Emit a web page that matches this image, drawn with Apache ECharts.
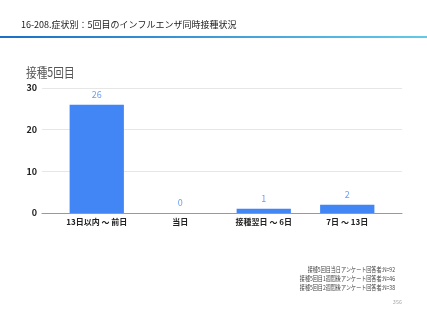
<!DOCTYPE html>
<html><head><meta charset="utf-8">
<script src="https://cdn.jsdelivr.net/npm/echarts@6/dist/echarts.min.js"></script>
<style>html,body{margin:0;padding:0;background:#fff}#c{width:427px;height:320px}</style>
</head><body><div id="c"></div>
<script>
const categories = ['13日以内 ～ 前日', '当日', '接種翌日 ～ 6日', '7日 ～ 13日'];
const values = [26, 0, 1, 2];
const yTicks = { min: 0, max: 30, interval: 10 };
const pageTitle = '16-208.症状別：5回目のインフルエンザ同時接種状況';
const chartTitle = '接種5回目';
const notes = ['接種5回目当日アンケート回答者:N=92', '接種5回目1週間後アンケート回答者:N=46', '接種5回目2週間後アンケート回答者:N=38'];
const pageNo = '356';

const font = '"Noto Sans CJK JP", "Noto Sans", sans-serif';
const chart = echarts.init(document.getElementById('c'), null, {renderer: 'canvas'});
const noteEls = notes.map((t, i) => ({
  type: 'text', x: 395, y: 270 + i * 9, scaleX: 0.78,
  style: { text: t, align: 'right', verticalAlign: 'middle', fontSize: 6.5, fill: '#444', fontFamily: font }
}));
chart.setOption({
  animation: false,
  textStyle: { fontFamily: font },
  graphic: [
    { type: 'text', x: 21, y: 25, style: { text: pageTitle, align: 'left', verticalAlign: 'middle', fontSize: 9, fill: '#222', fontFamily: font } },
    { type: 'text', x: 26, y: 72, scaleX: 0.82, style: { text: chartTitle, align: 'left', verticalAlign: 'middle', fontSize: 13, fill: '#555', fontFamily: font } },
    { type: 'rect', shape: { x: 0, y: 36, width: 427, height: 2 },
      style: { fill: new echarts.graphic.LinearGradient(0, 0, 1, 0, [{offset: 0, color: '#1a6fc6'}, {offset: 1, color: '#63c9e8'}]) } },
    ...noteEls,
    { type: 'text', x: 402, y: 302, style: { text: pageNo, align: 'right', verticalAlign: 'middle', fontSize: 5.5, fill: '#aaa', fontFamily: font } }
  ],
  grid: [
    { left: 42, right: 25, top: 88, bottom: 107, containLabel: false },
    { left: 55, right: 38, top: 88, bottom: 107, containLabel: false }
  ],
  xAxis: [
    { gridIndex: 0, type: 'value', min: 0, max: 1, show: true,
      axisLine: { show: true, onZero: false, lineStyle: { color: '#999', width: 1 } },
      axisTick: { show: false }, axisLabel: { show: false }, splitLine: { show: false } },
    { gridIndex: 1, type: 'category', data: categories,
      axisLine: { show: false }, axisTick: { show: false },
      axisLabel: { color: '#222', fontSize: 8, fontWeight: 'bold', margin: 5, interval: 0, fontFamily: font } }
  ],
  yAxis: [
    { gridIndex: 0, type: 'value', min: yTicks.min, max: yTicks.max, interval: yTicks.interval,
      axisLine: { show: false }, axisTick: { show: false },
      axisLabel: { color: '#222', fontSize: 9, fontWeight: 'bold', margin: 5, fontFamily: font },
      splitLine: { lineStyle: { color: '#e6e6e6', width: 1 } } },
    { gridIndex: 1, type: 'value', min: yTicks.min, max: yTicks.max, interval: yTicks.interval, show: false,
      splitLine: { show: false } }
  ],
  series: [{
    type: 'bar', xAxisIndex: 1, yAxisIndex: 1, data: values, barWidth: '65%',
    itemStyle: { color: '#4285f4' },
    label: { show: true, position: 'top', distance: 6, color: '#6b9ef5', fontSize: 9, fontFamily: font }
  }]
});
</script></body></html>
